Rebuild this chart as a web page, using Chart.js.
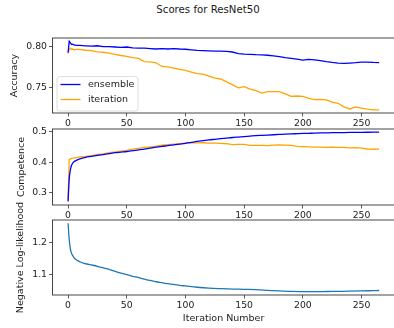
<!DOCTYPE html>
<html><head><meta charset="utf-8">
<script src="https://cdn.jsdelivr.net/npm/chart.js@4/dist/chart.umd.min.js"></script>
<style>
html,body{margin:0;padding:0;background:#fff;overflow:hidden;width:394px;height:328px;}
#wrap{position:relative;width:394px;height:328px;overflow:hidden;}
canvas{position:absolute;left:0;top:0;}
#title{position:absolute;left:0;top:4px;width:416px;text-align:center;font-family:'DejaVu Sans';font-size:10.2px;color:#1a1a1a;line-height:12px;}
</style></head>
<body>
<div id="wrap">
<div id="title">Scores for ResNet50</div>
<canvas id="c1" width="400" height="328" style="width:400px;height:328px"></canvas>
<canvas id="c2" width="400" height="328" style="width:400px;height:328px"></canvas>
<canvas id="c3" width="400" height="328" style="width:400px;height:328px"></canvas>
</div>
<script>
// ---------------- DATA ----------------
const seriesLabels = ['ensemble', 'iteration'];
const iterations = [0,1,2,3,4,5,7,10,15,20,25,30,35,40,45,50,55,60,65,70,75,80,85,90,95,100,105,110,115,120,125,130,135,140,145,150,155,160,165,170,175,180,185,190,195,200,205,210,215,220,225,230,235,240,245,250,255,260,265];
const accuracyEnsemble = [0.793,0.807,0.805,0.803,0.8035,0.8025,0.802,0.802,0.8015,0.801,0.8015,0.8005,0.8005,0.800,0.7995,0.800,0.799,0.7985,0.7985,0.798,0.7975,0.798,0.7975,0.798,0.7975,0.7972,0.7965,0.7958,0.7955,0.7952,0.795,0.7948,0.7945,0.7938,0.7918,0.7912,0.791,0.7905,0.7902,0.7898,0.789,0.7882,0.787,0.786,0.785,0.7838,0.7846,0.7842,0.7832,0.782,0.781,0.7802,0.7798,0.7802,0.7806,0.7812,0.7814,0.781,0.7808];
const accuracyIteration = [0.792,0.797,0.7985,0.797,0.7975,0.7965,0.797,0.797,0.796,0.7955,0.794,0.7935,0.7925,0.791,0.7895,0.7885,0.787,0.786,0.782,0.7815,0.7805,0.776,0.7755,0.774,0.7725,0.771,0.769,0.767,0.7665,0.764,0.7615,0.7605,0.757,0.7535,0.7495,0.751,0.748,0.746,0.743,0.745,0.7448,0.745,0.742,0.739,0.7395,0.739,0.7365,0.735,0.7352,0.7347,0.732,0.7305,0.726,0.7235,0.726,0.7245,0.7232,0.7224,0.7224];
const competenceEnsemble = [0.2705,0.345,0.375,0.39,0.397,0.401,0.406,0.411,0.416,0.419,0.422,0.425,0.428,0.431,0.433,0.435,0.438,0.440,0.443,0.446,0.449,0.452,0.454,0.457,0.4595,0.462,0.465,0.468,0.4705,0.473,0.475,0.477,0.479,0.481,0.4825,0.484,0.4855,0.487,0.488,0.489,0.490,0.491,0.492,0.4928,0.4935,0.4942,0.4948,0.4954,0.4959,0.4963,0.4967,0.497,0.4973,0.4976,0.4979,0.4981,0.4983,0.4985,0.4987];
const competenceIteration = [0.276,0.408,0.4105,0.412,0.413,0.4135,0.415,0.417,0.419,0.4215,0.4255,0.4275,0.431,0.4335,0.4365,0.439,0.4425,0.4455,0.4485,0.4505,0.4525,0.4555,0.4575,0.4595,0.461,0.4625,0.4635,0.4632,0.4638,0.4625,0.4628,0.4615,0.4605,0.4575,0.4582,0.4585,0.4548,0.4552,0.455,0.4545,0.4558,0.4565,0.4562,0.4548,0.4515,0.451,0.4502,0.4495,0.4492,0.4488,0.4492,0.4486,0.4482,0.4472,0.4476,0.4462,0.4432,0.4424,0.4425];
const nllIterations = [0,1,2,3,4,5,7,10,13,16,20,25,30,35,40,45,50,55,60,65,70,75,80,85,90,95,100,110,120,130,140,150,160,170,180,190,200,210,220,230,240,250,260,265];
const nllValues = [1.26,1.21,1.18,1.167,1.16,1.154,1.147,1.141,1.137,1.134,1.131,1.127,1.122,1.117,1.111,1.106,1.101,1.096,1.092,1.087,1.083,1.079,1.076,1.073,1.071,1.068,1.066,1.062,1.059,1.0575,1.0565,1.0555,1.0545,1.0525,1.0505,1.049,1.0485,1.0483,1.0488,1.0493,1.0498,1.0505,1.0515,1.052];
const xTicks = [0,50,100,150,200,250];
const accuracyTicks = [0.75,0.80];
const competenceTicks = [0.3,0.4,0.5];
const nllTicks = [1.1,1.2];
const yTitles = ['Accuracy','Competence','Negative Log-likelihood'];
const xTitle = 'Iteration Number';

// ---------------- STYLE ----------------
const FONT = 'DejaVu Sans';
const TXT = '#222';
const CW = 400, CH = 328;
const AREA_LEFT = 52.5, AREA_RIGHT = 394.7;
const X_MIN = -13.25, X_MAX = 278.25;

function pts(xs, ys){ return xs.map((x,i)=>({x:x, y:ys[i]})); }

const framePlugin = {
  id:'frame',
  afterDatasetsDraw(chart){
    const a = chart.chartArea, ctx = chart.ctx;
    ctx.save();
    ctx.strokeStyle = '#333'; ctx.lineWidth = 0.9;
    ctx.strokeRect(a.left, a.top, a.right-a.left, a.bottom-a.top);
    ctx.restore();
  }
};
const yTitlePlugin = {
  id:'ytitle',
  afterDraw(chart, args, opts){
    if(!opts || !opts.text) return;
    const a = chart.chartArea, ctx = chart.ctx;
    ctx.save();
    ctx.translate(opts.x, (a.top+a.bottom)/2);
    ctx.rotate(-Math.PI/2);
    ctx.font = '9.5px "DejaVu Sans"';
    ctx.fillStyle = TXT; ctx.textAlign='center'; ctx.textBaseline='middle';
    ctx.fillText(opts.text, 0, 0);
    ctx.restore();
  }
};
const legendPlugin = {
  id:'boxlegend',
  afterDraw(chart, args, opts){
    if(!opts || !opts.show) return;
    const a = chart.chartArea, ctx = chart.ctx;
    const x0 = a.left + 4.5, y0 = a.bottom - 36.5, w = 81, h = 34.5, r = 2.5;
    ctx.save();
    ctx.beginPath();
    ctx.moveTo(x0+r,y0); ctx.lineTo(x0+w-r,y0); ctx.arcTo(x0+w,y0,x0+w,y0+r,r);
    ctx.lineTo(x0+w,y0+h-r); ctx.arcTo(x0+w,y0+h,x0+w-r,y0+h,r);
    ctx.lineTo(x0+r,y0+h); ctx.arcTo(x0,y0+h,x0,y0+h-r,r);
    ctx.lineTo(x0,y0+r); ctx.arcTo(x0,y0,x0+r,y0,r); ctx.closePath();
    ctx.fillStyle='rgba(255,255,255,0.8)'; ctx.fill();
    ctx.strokeStyle='#d5d5d5'; ctx.lineWidth=0.8; ctx.stroke();
    ctx.font = '9.5px "DejaVu Sans"'; ctx.textBaseline='middle'; ctx.textAlign='left';
    chart.data.datasets.forEach((d,i)=>{
      const yy = y0 + 8 + i*15;
      ctx.strokeStyle = d.borderColor; ctx.lineWidth = 1.3;
      ctx.beginPath(); ctx.moveTo(x0+3.5, yy); ctx.lineTo(x0+23.5, yy); ctx.stroke();
      ctx.fillStyle = TXT; ctx.fillText(d.label, x0+31, yy+0.5);
    });
    ctx.restore();
  }
};

function makeChart(id, c){
  const tickFont = {family:FONT, size:9.3};
  return new Chart(document.getElementById(id), {
    type:'line',
    data:{datasets:c.datasets.map(d=>({
      label:d.label, data:pts(d.x,d.y), borderColor:d.color, backgroundColor:d.color,
      borderWidth:1.3, pointRadius:0, fill:false,
      cubicInterpolationMode: d.smooth ? 'monotone' : 'default', tension:0
    }))},
    options:{
      responsive:false, animation:false, devicePixelRatio:1,
      layout:{padding:{left:0, right:CW-AREA_RIGHT, top:c.top, bottom:CH-c.bottom-c.xH}},
      plugins:{legend:{display:false}, tooltip:{enabled:false}, title:{display:false},
        ytitle:{text:c.yTitle, x:c.yTitleX}, boxlegend:{show:!!c.legend}},
      scales:{
        x:{type:'linear', min:X_MIN, max:X_MAX,
          afterFit(s){ s.height = c.xH; },
          afterBuildTicks(s){ s.ticks = xTicks.map(v=>({value:v})); },
          grid:{display:true, drawOnChartArea:false, drawTicks:true, tickLength:3.5, color:'#333', lineWidth:0.8},
          border:{display:false},
          ticks:{font:tickFont, color:TXT, padding:1.5, maxRotation:0, autoSkip:false, callback:v=>String(v)},
          title: c.xTitle ? {display:true, text:c.xTitle, font:{family:FONT,size:9.5}, color:TXT, padding:{top:0,bottom:3.3}} : {display:false}
        },
        y:{type:'linear', min:c.yMin, max:c.yMax,
          afterFit(s){ s.width = AREA_LEFT; },
          afterBuildTicks(s){ s.ticks = c.yTicks.map(v=>({value:v})); },
          grid:{display:true, drawOnChartArea:false, drawTicks:true, tickLength:3.5, color:'#333', lineWidth:0.8},
          border:{display:false},
          ticks:{font:tickFont, color:TXT, padding:2, autoSkip:false, callback:v=>v.toFixed(c.dec)}
        }
      }
    },
    plugins:[framePlugin, yTitlePlugin, legendPlugin]
  });
}

makeChart('c1', {
  top:38, bottom:113, xH:20, yMin:0.7185, yMax:0.8111, yTicks:accuracyTicks, dec:2,
  yTitle:yTitles[0], yTitleX:15, legend:true,
  datasets:[
    {label:seriesLabels[0], x:iterations, y:accuracyEnsemble, color:'#0000ff'},
    {label:seriesLabels[1], x:iterations, y:accuracyIteration, color:'#ffa500'}
  ]
});
makeChart('c2', {
  top:129, bottom:205, xH:20, yMin:0.2592, yMax:0.5089, yTicks:competenceTicks, dec:1,
  yTitle:yTitles[1], yTitleX:21.7,
  datasets:[
    {label:seriesLabels[0], x:iterations, y:competenceEnsemble, color:'#0000ff', smooth:true},
    {label:seriesLabels[1], x:iterations, y:competenceIteration, color:'#ffa500'}
  ]
});
makeChart('c3', {
  top:220, bottom:295, xH:33, yMin:1.038, yMax:1.2703, yTicks:nllTicks, dec:1,
  yTitle:yTitles[2], yTitleX:20.7, xTitle:xTitle,
  datasets:[
    {label:'nll', x:nllIterations, y:nllValues, color:'#1f77b4', smooth:true}
  ]
});
</script>
</body></html>
